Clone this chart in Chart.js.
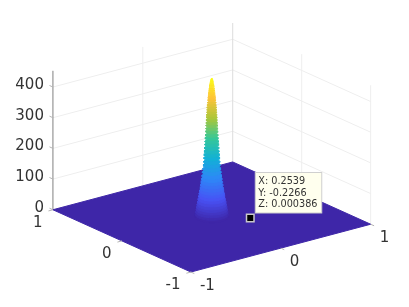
<!DOCTYPE html>
<html>
<head>
<meta charset="utf-8">
<style>
html, body { margin: 0; padding: 0; background: #fff; }
canvas { display: block; }
</style>
<script src="https://cdn.jsdelivr.net/npm/chart.js@4"></script>
</head>
<body>
<canvas id="surf" width="409" height="307"></canvas>
<script>
// axis ticks
const xTicks = [-1, 0, 1];
const yTicks = [-1, 0, 1];
const zTicks = [0, 100, 200, 300, 400];
const xTickLabels = ['-1', '0', '1'];
const yTickLabels = ['-1', '0', '1'];
const zTickLabels = ['0', '100', '200', '300', '400'];
const zTop = 453;

// peak: height and radius of each slice
const peakZ = [0, 8, 16, 24, 32, 40, 49, 58, 67, 76, 85, 94, 104, 114, 124, 134, 146, 157, 169, 180, 192, 203, 214, 225, 236, 246, 257, 267, 278, 288, 298, 307, 316, 325, 333, 341, 349, 357, 365, 373, 381, 388, 394, 401, 407, 413, 418, 424, 429, 433, 437, 441, 444, 447, 450, 452];
const peakR = [.150, .146, .142, .138, .134, .130, .126, .121, .117, .112, .108, .104, .100, .096, .092, .088, .084, .080, .076, .073, .071, .069, .067, .065, .063, .061, .059, .057, .055, .053, .052, .050, .049, .048, .046, .044, .043, .042, .040, .038, .036, .034, .032, .030, .028, .026, .024, .022, .020, .018, .016, .014, .012, .010, .007, .004];
const ringCos = [1, .966, .866, .707, .5, .259, 0, -.259, -.5, -.707, -.866, -.966, -1, -.966, -.866, -.707, -.5, -.259, 0, .259, .5, .707, .866, .966, 1];
const ringSin = [0, .259, .5, .707, .866, .966, 1, .966, .866, .707, .5, .259, 0, -.259, -.5, -.707, -.866, -.966, -1, -.966, -.866, -.707, -.5, -.259, 0];

// floor and the data tip
const floorX = [-1, 1, 1, -1, -1];
const floorY = [-1, -1, 1, 1, -1];
const tipX = [0.2539];
const tipY = [-0.2266];
const tipZ = [0.000386];
const tipLines = ['X: 0.2539', 'Y: -0.2266', 'Z: 0.000386'];

// colormap
const parula = [[62, 38, 168], [72, 82, 244], [46, 135, 247], [18, 177, 214], [55, 200, 151], [171, 199, 57], [254, 195, 56], [249, 251, 21]];

// view(-37.5, 30), stretched to fill the axes
const project = (x, y, z) => ({
    x: .7934 * x - .6088 * y,
    y: .3044 * x + .3967 * y + .003908 * z,
});

function colorAt(z) {
    const t = z / zTop * (parula.length - 1);
    const i = Math.min(Math.floor(t), parula.length - 2);
    const f = t - i;
    const c = parula[i].map((v, k) => Math.round(v + (parula[i + 1][k] - v) * f));
    return `rgb(${c[0]},${c[1]},${c[2]})`;
}

function lineSet(points, color, width = 1) {
    return { data: points, borderColor: color, borderWidth: width, backgroundColor: 'transparent' };
}
function shapeSet(points, color) {
    return { data: points, borderColor: color, borderWidth: 1, backgroundColor: color, fill: 'shape' };
}

const sets = [];

// back walls
zTicks.forEach(z => {
    sets.push(lineSet([project(-1, 1, z), project(1, 1, z), project(1, -1, z)], '#eeeeee'));
});
xTicks.slice(1, 2).forEach(x => {
    sets.push(lineSet([project(x, 1, 0), project(x, 1, zTop)], '#eeeeee'));
});
yTicks.slice(1, 2).forEach(y => {
    sets.push(lineSet([project(1, y, 0), project(1, y, zTop)], '#eeeeee'));
});
sets.push(lineSet([project(1, 1, 0), project(1, 1, zTop)], '#dcdcdc'));
sets.push(lineSet([project(1, -1, 0), project(1, -1, zTop)], '#eeeeee'));

// z axis and tick marks
sets.push(lineSet([project(-1, 1, 0), project(-1, 1, zTop)], '#808080'));
zTicks.forEach(z => {
    sets.push(lineSet([project(-1, 1, z), project(-1, 1.05, z)], '#b4b4b4'));
});

// floor
sets.push(shapeSet(floorX.map((x, i) => project(x, floorY[i], 0)), colorAt(0)));

// ticks on the two front edges
yTicks.forEach(y => {
    sets.push(lineSet([project(-1, y, 0), project(-1.05, y, 0)], '#b4b4b4'));
});
xTicks.forEach(x => {
    sets.push(lineSet([project(x, -1, 0), project(x, -1.05, 0)], '#b4b4b4'));
});

// peak, slices from the bottom up
peakZ.forEach((z, i) => {
    const ring = ringCos.map((c, k) => project(peakR[i] * c, peakR[i] * ringSin[k], z));
    sets.push(shapeSet(ring, colorAt(z)));
});

// data tip marker
sets.push({
    data: tipX.map((x, i) => project(x, tipY[i], tipZ[i])),
    showLine: false,
    pointStyle: 'rect',
    pointRadius: 5.3,
    pointBorderWidth: 1.5,
    pointBackgroundColor: '#000',
    pointBorderColor: '#c8c8c8',
});

sets.forEach((s, i) => { s.order = -i; });

// tick labels and the data tip box
const surfaceText = {
    id: 'surfaceText',
    afterDraw(chart) {
        const ctx = chart.ctx;
        const sx = chart.scales.x;
        const sy = chart.scales.y;
        const px = p => ({ x: sx.getPixelForValue(p.x), y: sy.getPixelForValue(p.y) });

        ctx.save();
        ctx.fillStyle = '#333';
        ctx.font = '15px "DejaVu Sans"';
        ctx.textBaseline = 'middle';

        ctx.textAlign = 'right';
        zTicks.forEach((z, i) => {
            const p = px(project(-1, 1, z));
            ctx.fillText(zTickLabels[i], p.x - 9, p.y - 2);
        });
        yTicks.forEach((y, i) => {
            const p = px(project(-1, y, 0));
            ctx.fillText(yTickLabels[i], p.x - 10.4, p.y + 13);
        });
        ctx.textAlign = 'left';
        xTicks.forEach((x, i) => {
            const p = px(project(x, -1, 0));
            ctx.fillText(xTickLabels[i], p.x + 9, p.y + 14);
        });

        const m = px(project(tipX[0], tipY[0], tipZ[0]));
        ctx.fillStyle = '#ffffee';
        ctx.strokeStyle = '#cfcfcf';
        ctx.lineWidth = 1;
        ctx.fillRect(m.x + 5, m.y - 45.5, 66.5, 40.5);
        ctx.strokeRect(m.x + 5, m.y - 45.5, 66.5, 40.5);
        ctx.fillStyle = '#333';
        ctx.font = '9.7px "DejaVu Sans"';
        tipLines.forEach((t, i) => {
            ctx.fillText(t, m.x + 8, m.y - 36.5 + i * 11.7);
        });
        ctx.restore();
    },
};

new Chart(document.getElementById('surf'), {
    type: 'scatter',
    data: { datasets: sets },
    plugins: [surfaceText],
    options: {
        responsive: false,
        animation: false,
        events: [],
        showLine: true,
        elements: { point: { radius: 0 } },
        layout: { padding: 0, autoPadding: false },
        scales: {
            x: { type: 'linear', display: false, min: -1.8694, max: 1.7405 },
            y: { type: 'linear', display: false, min: -1.1465, max: 2.7643 },
        },
        plugins: {
            legend: { display: false },
            tooltip: { enabled: false },
        },
    },
});
</script>
</body>
</html>
